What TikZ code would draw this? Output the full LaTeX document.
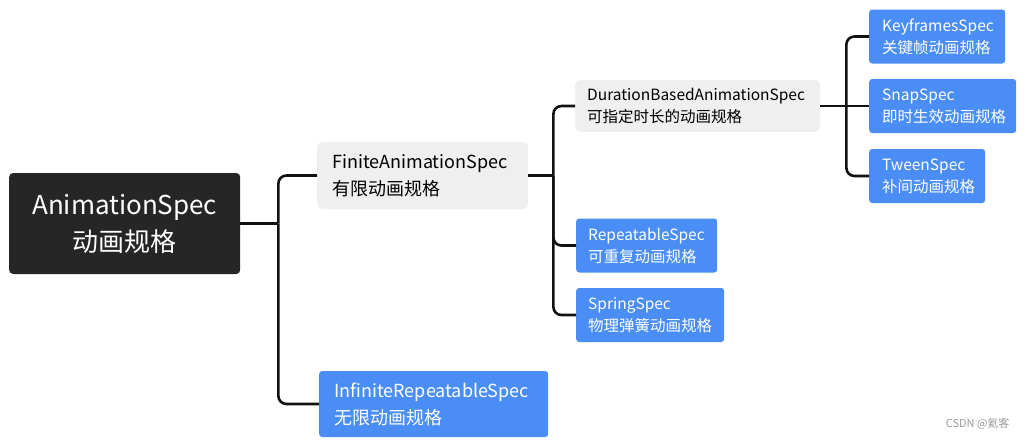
\documentclass[tikz,border=0pt]{standalone}
\usepackage{fontspec}
\setmainfont{Noto Sans CJK SC}
\usetikzlibrary{positioning}
\definecolor{RootInk}{HTML}{262626}
\definecolor{PaleGrey}{HTML}{EFEFEF}
\definecolor{SpecBlue}{HTML}{4A8EF5}
\definecolor{WireInk}{HTML}{111111}
\definecolor{MarkGrey}{HTML}{9A9A9A}
\tikzset{
  rootbox/.style={
    fill=RootInk,
    rounded corners=4pt,
    text=white,
    align=center,
    anchor=west,
    inner xsep=0pt,
    minimum height=101pt,
    font=\fontsize{26}{37}\selectfont
  },
  greybox/.style={
    fill=PaleGrey,
    rounded corners=5pt,
    text=black,
    align=left,
    anchor=west,
    font=\fontsize{18}{27}\selectfont
  },
  bluebox/.style={
    fill=SpecBlue,
    rounded corners=3pt,
    text=white,
    align=left,
    anchor=west,
    inner xsep=12pt,
    minimum height=54pt,
    font=\fontsize{15.5}{22}\selectfont
  },
  wire/.style={
    draw=WireInk,
    line width=2.6pt,
    rounded corners=8pt
  }
}
\begin{document}
\begin{tikzpicture}[x=1pt,y=-1pt]
  \useasboundingbox (0,0) rectangle (1028,440);
  \node[rootbox, text width=231pt] (root) at (9,223.5) {AnimationSpec\\动画规格};
  \node[greybox, inner xsep=15pt, text width=181pt, minimum height=67pt] (finite) at (317,175.5)
    {FiniteAnimationSpec\\有限动画规格};
  \node[bluebox, inner xsep=15pt, text width=199pt, minimum height=66pt,
    font=\fontsize{18}{27}\selectfont] (infinite) at (319,404)
    {InfiniteRepeatableSpec\\无限动画规格};
  \node[greybox, inner xsep=12pt, text width=221pt, minimum height=52pt,
    font=\fontsize{15.5}{22}\selectfont] (duration) at (575,106)
    {DurationBasedAnimationSpec\\可指定时长的动画规格};
  \node[bluebox, text width=117pt] (repeatable) at (576,245.5) {RepeatableSpec\\可重复动画规格};
  \node[bluebox, text width=124pt] (spring) at (576,315) {SpringSpec\\物理弹簧动画规格};
  \node[bluebox, inner xsep=13pt, text width=110pt] (keyframes) at (869,36.5) {KeyframesSpec\\关键帧动画规格};
  \node[bluebox, inner xsep=13pt, text width=121pt] (snap) at (869,106) {SnapSpec\\即时生效动画规格};
  \node[bluebox, inner xsep=13pt, text width=90pt] (tween) at (869,176) {TweenSpec\\补间动画规格};

  \coordinate (forkA) at ([xshift=38pt]root.east);
  \coordinate (forkB) at ([xshift=25pt]finite.east);
  \coordinate (forkC) at ([xshift=26pt]duration.east);

  \draw[wire] (root.east) -- (forkA);
  \draw[wire] (forkA) |- (finite.west);
  \draw[wire] (forkA) |- (infinite.west);
  \draw[wire] (finite.east) -- (forkB);
  \draw[wire] (forkB) |- (duration.west);
  \draw[wire] (forkB) |- (repeatable.west);
  \draw[wire] (forkB) |- (spring.west);
  \draw[wire] (duration.east) -- (snap.west);
  \draw[wire] (forkC) |- (keyframes.west);
  \draw[wire] (forkC) |- (tween.west);

  \node[text=MarkGrey, anchor=east, font=\fontsize{11}{13}\selectfont] (mark) at (1013,424) {CSDN @氦客};
\end{tikzpicture}
\end{document}
